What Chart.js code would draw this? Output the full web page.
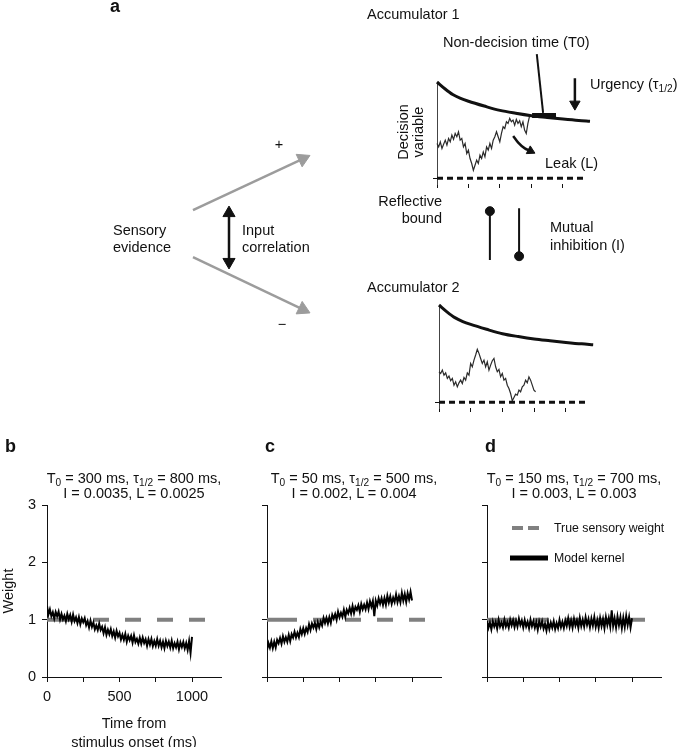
<!DOCTYPE html>
<html>
<head>
<meta charset="utf-8">
<script src="https://cdn.jsdelivr.net/npm/chart.js@4.4.1/dist/chart.umd.min.js"></script>
<style>
  html, body { margin: 0; padding: 0; background: #fff; overflow: hidden; }
  body { width: 678px; height: 747px; position: relative; font-family: "Liberation Sans", Arial, sans-serif; color: #111; }
  canvas { position: absolute; }
  .lbl { position: absolute; font-size: 14.5px; line-height: 1; white-space: nowrap; }
  .lbl sub { font-size: 0.7em; vertical-align: -0.3em; line-height: 0; }
  .panel { font-weight: bold; font-size: 18px; }
</style>
</head>
<body>
<canvas id="diagram" width="678" height="430" style="left:0;top:0"></canvas>
<canvas id="acc1" width="298" height="160" style="left:380px;top:40px"></canvas>
<canvas id="acc2" width="298" height="140" style="left:380px;top:290px"></canvas>
<canvas id="chartB" width="226" height="322" style="left:0;top:430px"></canvas>
<canvas id="chartC" width="226" height="322" style="left:220px;top:430px"></canvas>
<canvas id="chartD" width="238" height="322" style="left:440px;top:430px"></canvas>
<div id="labels"></div>
<script>
// ---------- panels b-d: kernels (one value every 10 ms, 0..1000 ms) ----------
const kernelStep = 10;
const timeTicks = [0, 250, 500, 750, 1000];
const timeLabels = [0, 500, 1000];
const weightTicks = [0, 1, 2, 3];
const trueWeightT = [0, 1100];
const trueWeightY = [1, 1];

const kernelB = [
  1.24, 1.09, 1.18, 1.06, 1.13, 1.02, 1.135, 1.06, 1.14, 1.005,
  1.10, 1.005, 1.07, 0.975, 1.10, 1.005, 1.08, 0.965, 1.09, 0.975,
  1.04, 0.94, 1.045, 0.92, 1.02, 0.955, 1.025, 0.905, 0.975, 0.865,
  0.985, 0.875, 0.95, 0.83, 0.90, 0.82, 0.93, 0.82, 0.875, 0.765,
  0.865, 0.735, 0.825, 0.745, 0.835, 0.715, 0.795, 0.685, 0.805, 0.71,
  0.77, 0.653, 0.736, 0.649, 0.752, 0.615, 0.719, 0.643, 0.717, 0.601,
  0.725, 0.61, 0.665, 0.58, 0.685, 0.58, 0.686, 0.592, 0.658, 0.544,
  0.66, 0.567, 0.664, 0.541, 0.628, 0.545, 0.661, 0.547, 0.633, 0.519,
  0.615, 0.503, 0.631, 0.539, 0.617, 0.515, 0.633, 0.501, 0.589, 0.517,
  0.615, 0.484, 0.603, 0.522, 0.611, 0.50, 0.592, 0.474, 0.626, 0.42,
  0.70
];
const kernelC = [
  0.47, 0.591, 0.512, 0.623, 0.504, 0.615, 0.516, 0.647, 0.588, 0.679,
  0.58, 0.711, 0.612, 0.693, 0.614, 0.735, 0.626, 0.747, 0.688, 0.789,
  0.69, 0.772, 0.694, 0.836, 0.748, 0.85, 0.752, 0.854, 0.786, 0.918,
  0.82, 0.931, 0.862, 0.943, 0.834, 0.955, 0.866, 0.967, 0.898, 1.029,
  0.94, 1.031, 0.932, 1.043, 0.944, 1.085, 1.016, 1.097, 0.998, 1.139,
  1.04, 1.12, 1.05, 1.17, 1.05, 1.17, 1.109, 1.208, 1.107, 1.236,
  1.115, 1.223, 1.171, 1.249, 1.137, 1.275, 1.183, 1.261, 1.179, 1.297,
  1.185, 1.322, 1.229, 1.326, 1.063, 1.33, 1.246, 1.372, 1.278, 1.374,
  1.26, 1.375, 1.26, 1.415, 1.30, 1.405, 1.279, 1.383, 1.307, 1.441,
  1.305, 1.409, 1.303, 1.467, 1.331, 1.445, 1.307, 1.459, 1.351, 1.483,
  1.335
];
const kernelD = [
  0.98, 0.86, 0.95, 0.83, 0.97, 0.88, 0.962, 0.844, 0.996, 0.878,
  0.95, 0.864, 0.998, 0.882, 0.956, 0.86, 1.0, 0.90, 0.99, 0.87,
  0.98, 0.879, 1.018, 0.907, 0.986, 0.865, 0.994, 0.883, 0.962, 0.851,
  1.0, 0.887, 0.974, 0.861, 0.958, 0.825, 0.97, 0.875, 0.97, 0.845,
  0.93, 0.812, 0.954, 0.836, 0.948, 0.86, 0.973, 0.836, 0.939, 0.852,
  0.995, 0.868, 0.961, 0.854, 0.987, 0.89, 1.023, 0.876, 0.989, 0.862,
  1.015, 0.896, 0.987, 0.858, 1.029, 0.89, 1.0, 0.88, 1.04, 0.91,
  1.01, 0.869, 1.018, 0.897, 1.046, 0.875, 0.996, 0.857, 1.028, 0.889,
  1.01, 0.852, 1.044, 0.906, 1.028, 0.88, 1.161, 0.892, 1.023, 0.864,
  1.055, 0.905, 1.045, 0.855, 1.035, 0.875, 1.065, 0.905, 1.045, 0.865,
  1.025
];

// ---------- panel a: accumulator traces (time units, decision variable 0..1) ----------
const accTicks = [0, 1, 2, 3, 4];
const boundT = [0, 0.25, 0.5, 0.75, 1, 1.5, 2, 2.5, 3, 3.5, 4, 4.5, 4.86];
const boundY = [1, 0.93, 0.87, 0.83, 0.80, 0.75, 0.705, 0.675, 0.65, 0.632, 0.615, 0.60, 0.592];
const reflectT = [0, 4.7];
const walkStep = 0.0525;
const walk1 = [
  0.361, 0.326, 0.378, 0.309, 0.354, 0.396, 0.344, 0.413, 0.378, 0.448,
  0.403, 0.465, 0.431, 0.483, 0.396, 0.413, 0.326, 0.361, 0.257, 0.292,
  0.205, 0.153, 0.083, 0.135, 0.188, 0.153, 0.240, 0.205, 0.274, 0.222,
  0.326, 0.292, 0.361, 0.309, 0.396, 0.431, 0.483, 0.431, 0.378, 0.465,
  0.535, 0.517, 0.587, 0.569, 0.622, 0.587, 0.604, 0.552, 0.611, 0.569,
  0.597, 0.535, 0.587, 0.500, 0.465, 0.569, 0.645
];
const walk2 = [
  0.313, 0.296, 0.330, 0.278, 0.302, 0.244, 0.268, 0.220, 0.244, 0.175,
  0.210, 0.158, 0.199, 0.227, 0.192, 0.254, 0.227, 0.302, 0.278, 0.399,
  0.364, 0.433, 0.485, 0.543, 0.502, 0.450, 0.399, 0.433, 0.364, 0.416,
  0.330, 0.381, 0.426, 0.450, 0.364, 0.313, 0.337, 0.261, 0.296, 0.227,
  0.244, 0.175, 0.141, 0.089, 0.014, 0.048, 0.082, 0.072, 0.124, 0.107,
  0.158, 0.175, 0.227, 0.199, 0.261, 0.227, 0.175, 0.124, 0.107
];
const t0Bar = [{ x: 3.02, y: 0.652 }, { x: 3.78, y: 0.652 }];
const t0Pointer = [{ x: 3.17, y: 1.29 }, { x: 3.37, y: 0.68 }];
const urgencyShaft = [{ x: 4.38, y: 1.04 }, { x: 4.38, y: 0.77 }];
const urgencyHead = { x: 4.38, y: 0.77, rot: 180 };
const leakShaft = [{ x: 2.42, y: 0.44 }, { x: 2.58, y: 0.37 }, { x: 2.79, y: 0.31 }, { x: 2.97, y: 0.284 }];
const leakHead = { x: 2.97, y: 0.284, rot: 117 };

// ---------- panel a: diagram (page coordinates) ----------
const evidenceUp = { from: { x: 189, y: 210 }, tip: { x: 309, y: 153 }, rot: 64.6 };
const evidenceDown = { from: { x: 189, y: 259 }, tip: { x: 309, y: 317 }, rot: 115.8 };
const correlation = { top: { x: 226, y: 206 }, bottom: { x: 226, y: 271 } };
const inhibitionA = { top: { x: 494, y: 211 }, bottom: { x: 494, y: 262 } };
const inhibitionB = { top: { x: 524, y: 208 }, bottom: { x: 524, y: 258 } };

Chart.defaults.font.family = '"Liberation Sans", Arial, sans-serif';
Chart.defaults.font.size = 14.5;
Chart.defaults.color = '#111';

function lineSet(data, extra) {
  return Object.assign({
    data, borderColor: '#111', borderWidth: 2, pointRadius: 0,
    showLine: true, fill: false, clip: false, tension: 0
  }, extra || {});
}
function headSet(p, r, color) {
  return {
    data: [{ x: p.x, y: p.y }], showLine: false, clip: false,
    pointStyle: 'triangle', pointRotation: p.rot, pointRadius: r,
    backgroundColor: color, borderColor: color, borderWidth: 1
  };
}
function headCenter(tip, rot, r) {
  const a = rot * Math.PI / 180;
  return { x: tip.x - r * Math.sin(a), y: tip.y + r * Math.cos(a), rot };
}
const hidden = { display: false };

// diagram arrows and inhibition sticks
const upHead = headCenter(evidenceUp.tip, evidenceUp.rot, 8);
const downHead = headCenter(evidenceDown.tip, evidenceDown.rot, 8);
const corrTop = headCenter(correlation.top, 0, 7);
const corrBottom = headCenter(correlation.bottom, 180, 7);
new Chart(document.getElementById('diagram'), {
  type: 'line',
  data: {
    datasets: [
      lineSet([evidenceUp.from, upHead], { borderColor: '#9c9c9c', borderWidth: 2.5 }),
      headSet(upHead, 8, '#9c9c9c'),
      lineSet([evidenceDown.from, downHead], { borderColor: '#9c9c9c', borderWidth: 2.5 }),
      headSet(downHead, 8, '#9c9c9c'),
      lineSet([corrTop, corrBottom], { borderWidth: 2.5 }),
      headSet(corrTop, 7, '#111'),
      headSet(corrBottom, 7, '#111'),
      lineSet([inhibitionA.top, inhibitionA.bottom], { borderWidth: 2 }),
      lineSet([inhibitionB.top, inhibitionB.bottom], { borderWidth: 2 }),
      { data: [inhibitionA.top, inhibitionB.bottom], showLine: false, pointStyle: 'circle',
        pointRadius: 4.5, backgroundColor: '#111', borderColor: '#111', clip: false }
    ]
  },
  options: {
    responsive: false, animation: false, events: [],
    layout: { padding: 0 },
    plugins: { legend: hidden, tooltip: { enabled: false } },
    scales: {
      x: { type: 'linear', min: 0, max: 678, display: false },
      y: { type: 'linear', min: 0, max: 430, reverse: true, display: false }
    }
  }
});

function accumChart(id, cfg) {
  const datasets = [
    lineSet(boundT.map((x, i) => ({ x, y: boundY[i] })), { borderWidth: 3, cubicInterpolationMode: 'monotone' }),
    lineSet(reflectT.map(x => ({ x, y: 0 })), { borderWidth: 3, borderDash: [6, 4] }),
    lineSet(cfg.walk.map((y, i) => ({ x: i * walkStep, y })), { borderWidth: 1.2, borderColor: '#2a2a2a' })
  ].concat(cfg.extras || []);
  new Chart(document.getElementById(id), {
    type: 'line',
    data: { datasets },
    options: {
      responsive: false, animation: false, events: [],
      layout: { padding: { left: 0, right: 88, top: cfg.padTop, bottom: 0 } },
      plugins: { legend: hidden, tooltip: { enabled: false } },
      scales: {
        x: {
          type: 'linear', min: 0, max: cfg.xMax,
          afterBuildTicks: s => { s.ticks = accTicks.map(v => ({ value: v })); },
          afterFit: s => { s.height = cfg.xAxisH; },
          border: { display: false },
          grid: { drawOnChartArea: false, drawTicks: true, tickLength: 4, color: '#111' },
          ticks: { display: false }
        },
        y: {
          type: 'linear', min: -0.06, max: 1,
          afterBuildTicks: s => { s.ticks = [{ value: 0 }]; },
          afterFit: s => { s.width = cfg.yAxisW; },
          border: { display: true, color: '#444', width: 1 },
          grid: { drawOnChartArea: false, drawTicks: true, tickLength: 4, color: '#111' },
          ticks: { display: false }
        }
      }
    }
  });
}

accumChart('acc1', {
  xMax: 4.86, yAxisW: 57, xAxisH: 16, padTop: 42, walk: walk1,
  extras: [
    lineSet(t0Bar, { borderWidth: 5, borderCapStyle: 'butt' }),
    lineSet(t0Pointer, { borderWidth: 2 }),
    lineSet(urgencyShaft, { borderWidth: 2.5 }),
    headSet(urgencyHead, 6, '#111'),
    lineSet(leakShaft, { borderWidth: 2.5, cubicInterpolationMode: 'monotone' }),
    headSet(leakHead, 5, '#111')
  ]
});
accumChart('acc2', { xMax: 4.76, yAxisW: 59, xAxisH: 22, padTop: 15, walk: walk2 });

// legend drawn inside the plot area of panel d
const insideLegend = {
  id: 'insideLegend',
  afterDatasetsDraw(chart, args, opts) {
    if (!opts.display) return;
    const { ctx, chartArea } = chart;
    ctx.save();
    chart.data.datasets.forEach((ds, i) => {
      const s = opts.samples[i];
      const x0 = chartArea.left + opts.left;
      const y = chartArea.top + opts.top + i * opts.rowGap;
      ctx.strokeStyle = ds.borderColor;
      ctx.lineWidth = s.width;
      ctx.setLineDash(s.dash || []);
      ctx.beginPath();
      ctx.moveTo(x0 + s.from, y);
      ctx.lineTo(x0 + s.to, y);
      ctx.stroke();
      ctx.setLineDash([]);
      ctx.fillStyle = '#111';
      ctx.font = '12.3px "Liberation Sans", Arial, sans-serif';
      ctx.textBaseline = 'middle';
      ctx.fillText(ds.label, x0 + opts.textX, y + 1);
    });
    ctx.restore();
  }
};

function kernelChart(id, values, showLabels, padRight, legend) {
  new Chart(document.getElementById(id), {
    type: 'line',
    data: {
      datasets: [
        lineSet(trueWeightT.map((x, i) => ({ x, y: trueWeightY[i] })), {
          label: 'True sensory weight', borderColor: '#808080', borderWidth: 4,
          borderDash: [30, 16, 16, 16, 16, 16, 16, 16, 16, 16, 16, 16],
          borderCapStyle: 'butt', clip: true, order: 1
        }),
        lineSet(values.map((y, i) => ({ x: i * kernelStep, y })), {
          label: 'Model kernel', borderColor: '#000', borderWidth: 2, clip: true, order: 0
        })
      ]
    },
    options: {
      responsive: false, animation: false, events: [],
      layout: { padding: { left: 0, right: padRight, top: 75, bottom: 0 } },
      plugins: {
        legend: hidden, tooltip: { enabled: false },
        insideLegend: legend ? Object.assign({ display: true }, legend) : { display: false }
      },
      scales: {
        x: {
          type: 'linear', min: 0, max: 1200,
          afterBuildTicks: s => { s.ticks = timeTicks.map(v => ({ value: v })); },
          afterFit: s => { s.height = 75; },
          border: { display: true, color: '#111', width: 1 },
          grid: { drawOnChartArea: false, drawTicks: true, tickLength: 5, color: '#111' },
          ticks: {
            padding: 6, maxRotation: 0, autoSkip: false,
            callback: v => (showLabels && timeLabels.includes(v)) ? String(v) : ''
          },
          title: {
            display: showLabels, text: ['Time from', 'stimulus onset (ms)'],
            font: { size: 14.5, lineHeight: 1.31 }, padding: { top: 0, bottom: 0 }
          }
        },
        y: {
          type: 'linear', min: 0, max: 3,
          afterBuildTicks: s => { s.ticks = weightTicks.map(v => ({ value: v })); },
          afterFit: s => { s.width = 47; },
          border: { display: true, color: '#111', width: 1 },
          grid: { drawOnChartArea: false, drawTicks: true, tickLength: 5, color: '#111' },
          ticks: { padding: 6, callback: v => showLabels ? String(v) : '' },
          title: { display: showLabels, text: 'Weight', padding: { top: 0, bottom: 0 } }
        }
      }
    },
    plugins: [insideLegend]
  });
}

kernelChart('chartB', kernelB, true, 5, null);
kernelChart('chartC', kernelC, false, 5, null);
kernelChart('chartD', kernelD, false, 17, {
  left: 0, top: 23, rowGap: 30, textX: 67,
  samples: [{ from: 25, to: 52, width: 4, dash: [11, 5] }, { from: 23, to: 61, width: 5 }]
});

// ---------- text ----------
const texts = [
  { t: 'a', x: 110, y: 6, cls: 'panel' },
  { t: 'Accumulator 1', x: 367, y: 14 },
  { t: 'Non-decision time (T0)', x: 443, y: 42 },
  { t: 'Urgency (τ<sub>1/2</sub>)', x: 590, y: 84 },
  { t: 'Decision', x: 403, y: 132, a: 'c', rot: true },
  { t: 'variable', x: 418, y: 132, a: 'c', rot: true },
  { t: 'Leak (L)', x: 545, y: 163 },
  { t: 'Reflective', x: 442, y: 201, a: 'r' },
  { t: 'bound', x: 442, y: 218, a: 'r' },
  { t: 'Mutual', x: 550, y: 227 },
  { t: 'inhibition (I)', x: 550, y: 245 },
  { t: 'Accumulator 2', x: 367, y: 287 },
  { t: 'Sensory', x: 113, y: 230 },
  { t: 'evidence', x: 113, y: 247 },
  { t: 'Input', x: 242, y: 230 },
  { t: 'correlation', x: 242, y: 247 },
  { t: '+', x: 279, y: 144, a: 'c' },
  { t: '\u2212', x: 282, y: 324, a: 'c' },
  { t: 'b', x: 5, y: 446, cls: 'panel' },
  { t: 'c', x: 265, y: 446, cls: 'panel' },
  { t: 'd', x: 485, y: 446, cls: 'panel' },
  { t: 'T<sub>0</sub> = 300 ms, τ<sub>1/2</sub> = 800 ms,', x: 134, y: 478, a: 'c' },
  { t: 'I = 0.0035, L = 0.0025', x: 134, y: 493, a: 'c' },
  { t: 'T<sub>0</sub> = 50 ms, τ<sub>1/2</sub> = 500 ms,', x: 354, y: 478, a: 'c' },
  { t: 'I = 0.002, L = 0.004', x: 354, y: 493, a: 'c' },
  { t: 'T<sub>0</sub> = 150 ms, τ<sub>1/2</sub> = 700 ms,', x: 574, y: 478, a: 'c' },
  { t: 'I = 0.003, L = 0.003', x: 574, y: 493, a: 'c' }
];
const holder = document.getElementById('labels');
texts.forEach(o => {
  const el = document.createElement('div');
  el.className = 'lbl' + (o.cls ? ' ' + o.cls : '');
  el.innerHTML = o.t;
  el.style.left = o.x + 'px';
  el.style.top = o.y + 'px';
  const tx = o.a === 'c' ? '-50%' : o.a === 'r' ? '-100%' : '0';
  el.style.transform = 'translate(' + tx + ',-50%)' + (o.rot ? ' rotate(-90deg)' : '');
  holder.appendChild(el);
});
</script>
</body>
</html>
